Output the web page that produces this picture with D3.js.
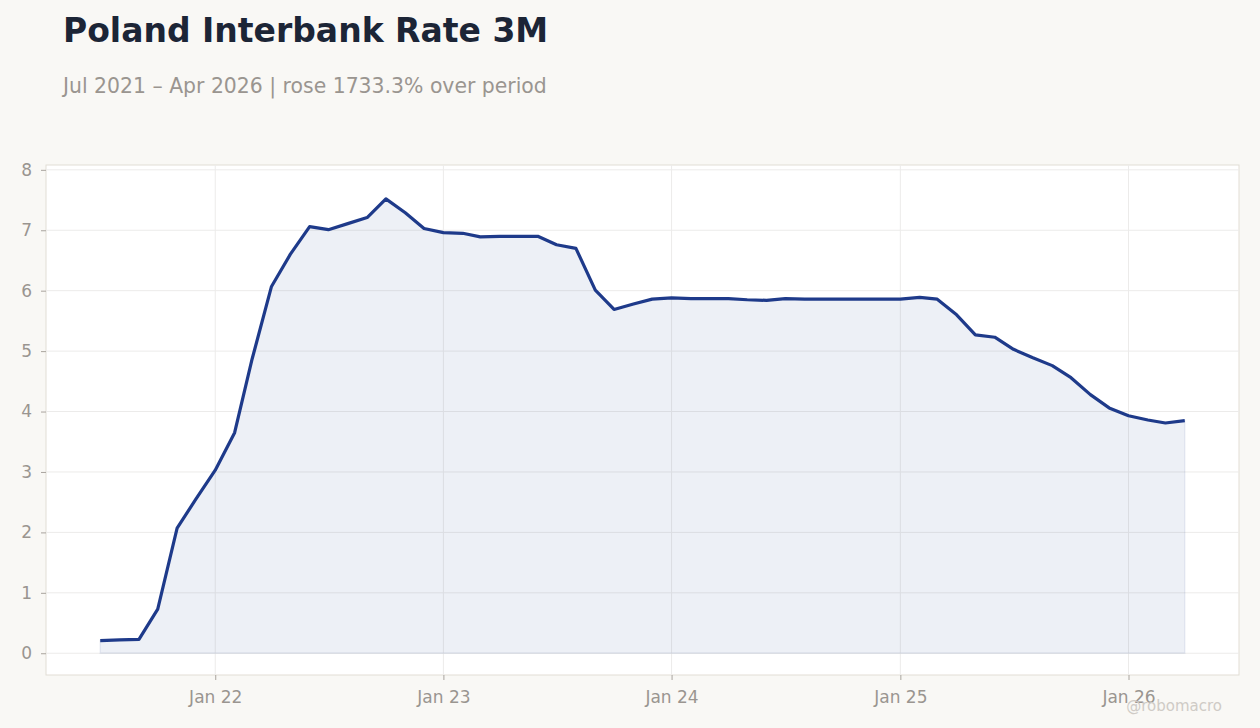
<!DOCTYPE html>
<html>
<head>
<meta charset="utf-8">
<script src="https://cdn.jsdelivr.net/npm/d3@7"></script>
<style>
  html, body { margin: 0; padding: 0; background: #f9f8f5; }
  svg { display: block; font-family: "DejaVu Sans", sans-serif; }
</style>
</head>
<body>
<svg id="chart" width="1260" height="728"></svg>
<script>
// monthly 3M rate, Jul 2021 .. Apr 2026
const months = [
  "2021-07", "2021-08", "2021-09", "2021-10", "2021-11", "2021-12",
  "2022-01", "2022-02", "2022-03", "2022-04", "2022-05", "2022-06",
  "2022-07", "2022-08", "2022-09", "2022-10", "2022-11", "2022-12",
  "2023-01", "2023-02", "2023-03", "2023-04", "2023-05", "2023-06",
  "2023-07", "2023-08", "2023-09", "2023-10", "2023-11", "2023-12",
  "2024-01", "2024-02", "2024-03", "2024-04", "2024-05", "2024-06",
  "2024-07", "2024-08", "2024-09", "2024-10", "2024-11", "2024-12",
  "2025-01", "2025-02", "2025-03", "2025-04", "2025-05", "2025-06",
  "2025-07", "2025-08", "2025-09", "2025-10", "2025-11", "2025-12",
  "2026-01", "2026-02", "2026-03", "2026-04"
];
const rates = [
  0.21, 0.22, 0.23, 0.73, 2.07, 2.55,
  3.03, 3.65, 4.87, 6.07, 6.60, 7.06,
  7.01, 7.11, 7.21, 7.52, 7.29, 7.03,
  6.96, 6.95, 6.89, 6.90, 6.90, 6.90,
  6.76, 6.70, 6.01, 5.69, 5.78, 5.86,
  5.88, 5.87, 5.87, 5.87, 5.85, 5.84,
  5.87, 5.86, 5.86, 5.86, 5.86, 5.86,
  5.86, 5.89, 5.86, 5.60, 5.27, 5.23,
  5.03, 4.89, 4.76, 4.56, 4.28, 4.06,
  3.93, 3.86, 3.81, 3.85
];
const yTicks = [0, 1, 2, 3, 4, 5, 6, 7, 8];
const xTickDates = ["2022-01", "2023-01", "2024-01", "2025-01", "2026-01"];
const xTickLabels = ["Jan 22", "Jan 23", "Jan 24", "Jan 25", "Jan 26"];

const parseMonth = d3.timeParse("%Y-%m");
const data = months.map((m, i) => ({ date: parseMonth(m), value: rates[i] }));

const svg = d3.select("#chart");
const margin = { top: 165, right: 21, bottom: 53, left: 46 };
const width = 1260 - margin.left - margin.right;
const height = 728 - margin.top - margin.bottom;

// title + subtitle
svg.append("text")
  .attr("x", 63).attr("y", 42)
  .attr("fill", "#1c2536")
  .style("font-size", "33px").style("font-weight", "bold")
  .text("Poland Interbank Rate 3M");
svg.append("text")
  .attr("x", 63).attr("y", 93)
  .attr("fill", "#9a9590")
  .style("font-size", "20.4px")
  .text("Jul 2021 – Apr 2026 | rose 1733.3% over period");

const g = svg.append("g").attr("transform", `translate(${margin.left},${margin.top})`);

// 5% padding on the time extent
const ext = d3.extent(data, d => d.date);
const pad = (ext[1] - ext[0]) * 0.05;
const x = d3.scaleTime()
  .domain([new Date(+ext[0] - pad), new Date(+ext[1] + pad)])
  .range([0, width]);
const y = d3.scaleLinear().domain([-0.36, 8.08]).range([height, 0]);

// plot background
g.append("rect")
  .attr("width", width).attr("height", height)
  .attr("fill", "#ffffff").attr("stroke", "#e2ddd5");

const xTicks = xTickDates.map(parseMonth);

// grid
g.append("g").selectAll("line.h").data(yTicks).enter().append("line")
  .attr("x1", 0).attr("x2", width)
  .attr("y1", d => y(d)).attr("y2", d => y(d))
  .attr("stroke", "#ecebea").attr("stroke-width", 1);
g.append("g").selectAll("line.v").data(xTicks).enter().append("line")
  .attr("x1", d => x(d)).attr("x2", d => x(d))
  .attr("y1", 0).attr("y2", height)
  .attr("stroke", "#ecebea").attr("stroke-width", 1);

// area + line
const area = d3.area()
  .x(d => x(d.date)).y0(y(0)).y1(d => y(d.value));
g.append("path").datum(data)
  .attr("d", area)
  .attr("fill", "rgba(30,58,138,0.08)")
  .attr("stroke", "rgba(30,58,138,0.08)")
  .attr("stroke-width", 1.5);

const line = d3.line().x(d => x(d.date)).y(d => y(d.value));
g.append("path").datum(data)
  .attr("d", line)
  .attr("fill", "none")
  .attr("stroke", "#1e3a8a")
  .attr("stroke-width", 3.2)
  .attr("stroke-linejoin", "round");

// axes
function styleAxis(sel) {
  sel.select(".domain").remove();
  sel.attr("font-family", null).attr("font-size", null);
  sel.selectAll(".tick line").attr("stroke", "#a9a49e");
  sel.selectAll(".tick text")
    .attr("fill", "#9a9590")
    .style("font-family", "'DejaVu Sans', sans-serif")
    .style("font-size", "17px");
}

g.append("g")
  .call(d3.axisLeft(y).tickValues(yTicks).tickSize(5).tickPadding(9).tickFormat(d3.format("d")))
  .call(styleAxis);

g.append("g")
  .attr("transform", `translate(0,${height})`)
  .call(d3.axisBottom(x).tickValues(xTicks).tickSize(5).tickPadding(11)
    .tickFormat((d, i) => xTickLabels[i]))
  .call(styleAxis);

// watermark
svg.append("text")
  .attr("x", 1222).attr("y", 711)
  .attr("text-anchor", "end")
  .attr("fill", "#cfcbc6")
  .style("font-size", "15px")
  .text("@robomacro");
</script>
</body>
</html>
